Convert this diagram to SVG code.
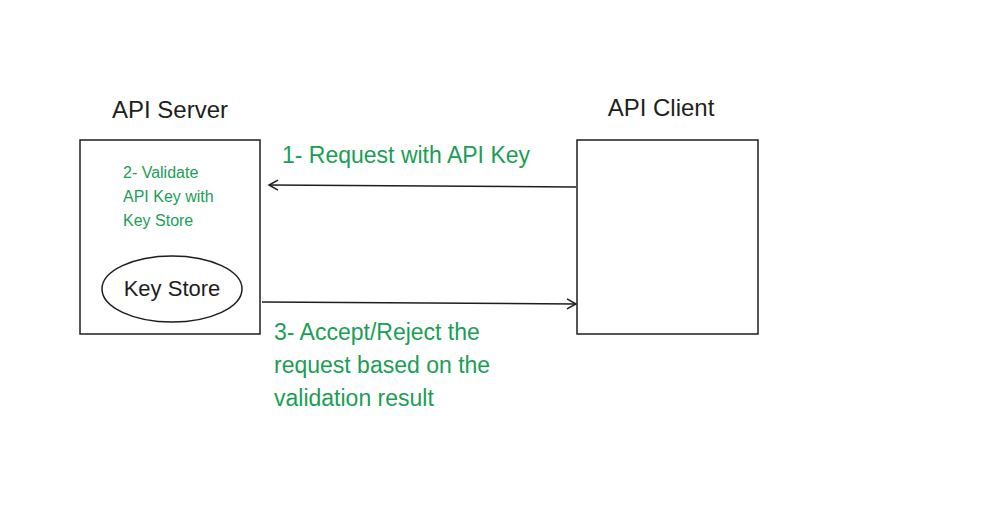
<svg xmlns="http://www.w3.org/2000/svg" width="984" height="507" viewBox="0 0 984 507">
<defs>
<style>
.box{fill:#fff;stroke:#1e1e1e;stroke-width:1.5}
.t{font-family:"Liberation Sans",Arial,sans-serif;fill:#1e1e1e}
.g{font-family:"Liberation Sans",Arial,sans-serif;fill:#1a9e55}
.c{stroke:#1e1e1e;stroke-width:1.5;fill:none}
</style>
<marker id="ah" markerWidth="12" markerHeight="12" refX="10" refY="6" orient="auto" markerUnits="userSpaceOnUse">
<path d="M1,1 L10,6 L1,11" fill="none" stroke="#1e1e1e" stroke-width="1.5"/>
</marker>
</defs>
<rect width="984" height="507" fill="#fff"/>
<g id="server">
<rect class="box" x="80" y="140" width="180" height="194"/>
<text class="t" x="170" y="118" font-size="24" text-anchor="middle">API Server</text>
<text class="g" x="123" y="178" font-size="16">2- Validate</text>
<text class="g" x="123" y="202" font-size="16">API Key with</text>
<text class="g" x="123" y="226" font-size="16">Key Store</text>
</g>
<g id="keystore">
<ellipse cx="172" cy="289" rx="70" ry="33" fill="#fff" stroke="#1e1e1e" stroke-width="1.5"/>
<text class="t" x="172" y="296" font-size="22" text-anchor="middle">Key Store</text>
</g>
<g id="client">
<rect class="box" x="577" y="140" width="181" height="194"/>
<text class="t" x="661" y="116" font-size="24" text-anchor="middle">API Client</text>
</g>
<g id="connectors">
<line class="c" x1="576" y1="187" x2="269" y2="185" marker-end="url(#ah)"/>
<line class="c" x1="262" y1="302" x2="576" y2="304" marker-end="url(#ah)"/>
<text class="g" x="282" y="163" font-size="23">1- Request with API Key</text>
<text class="g" x="274" y="340" font-size="23">3- Accept/Reject the</text>
<text class="g" x="274" y="373" font-size="23">request based on the</text>
<text class="g" x="274" y="406" font-size="23">validation result</text>
</g>
</svg>
